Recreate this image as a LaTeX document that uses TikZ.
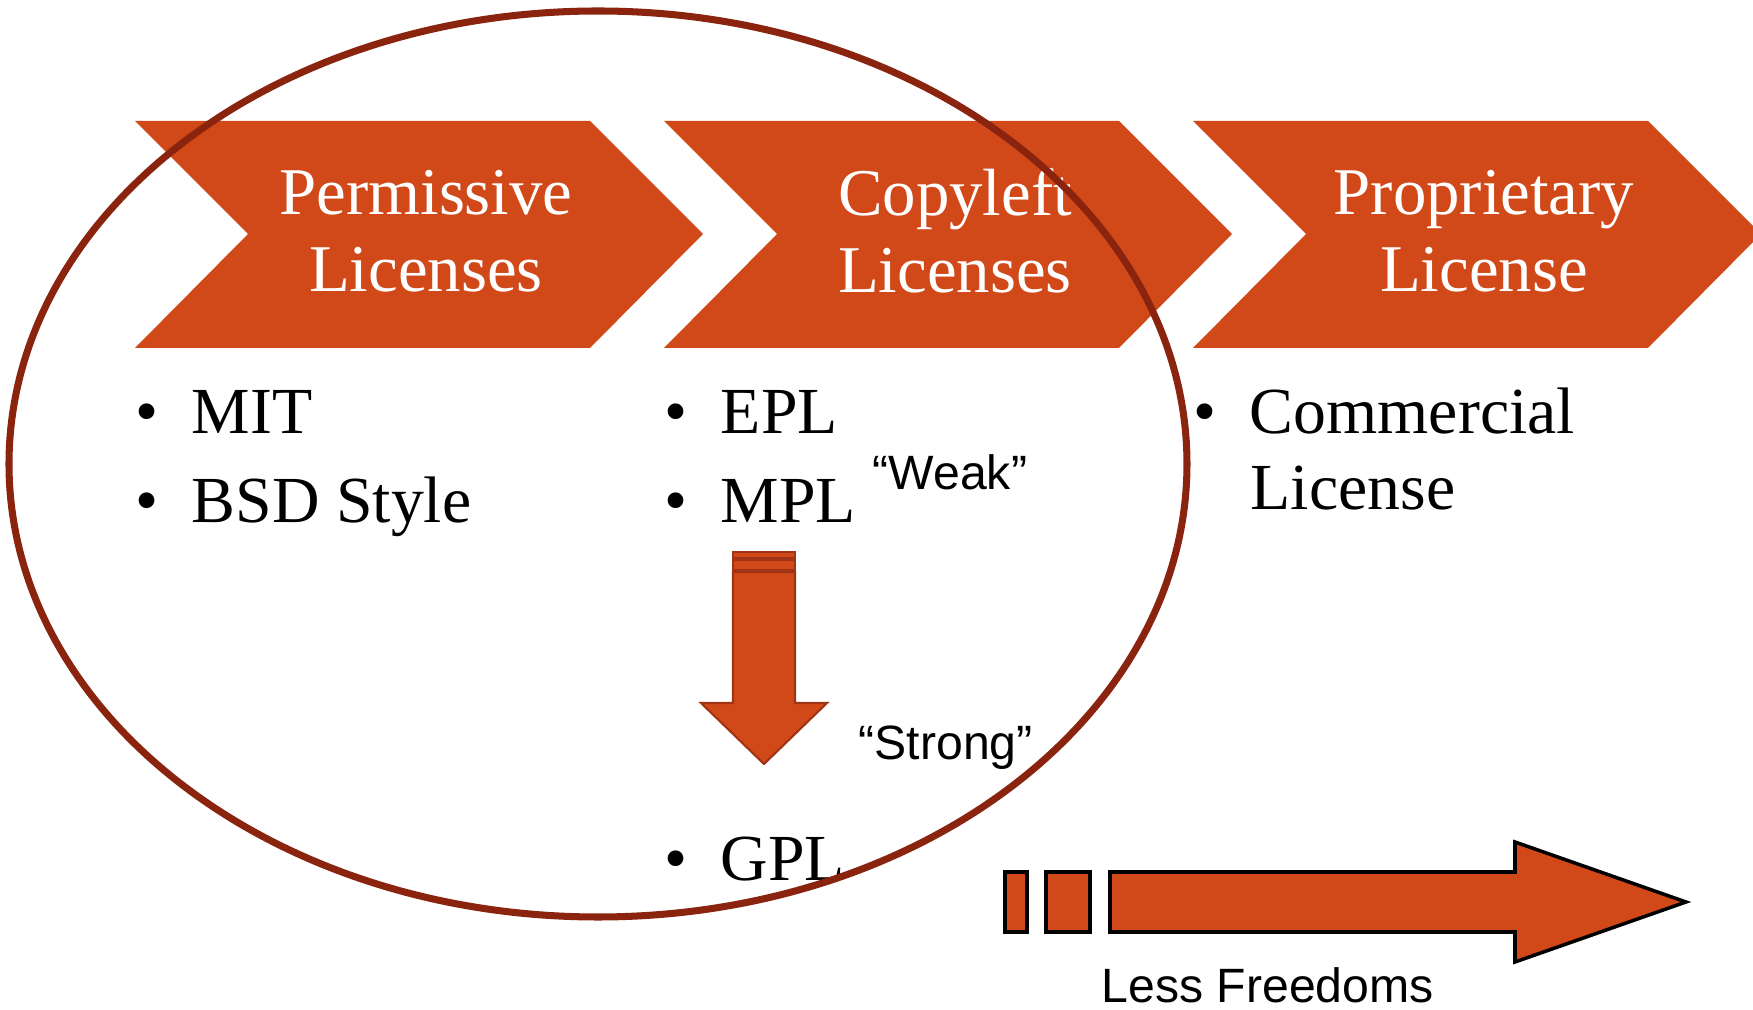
\documentclass[tikz,border=0pt]{standalone}
\usepackage{fontspec}
\setmainfont{Liberation Serif}
\newfontfamily\labelfont{Liberation Sans}
\definecolor{rust}{RGB}{209,73,24}
\definecolor{rustdark}{RGB}{160,52,20}
\definecolor{ringred}{RGB}{138,36,14}
\newcommand{\bul}{\makebox[16pt][l]{\textbullet}}

\begin{document}
\begin{tikzpicture}[x=0.01cm,y=-0.01cm,
  head/.style={text=white,align=center,font=\fontsize{19}{22}\selectfont,inner sep=0pt},
  item/.style={anchor=base west,font=\fontsize{18.7}{22}\selectfont,inner sep=0pt},
  tag/.style={anchor=base west,font=\labelfont\fontsize{13.7}{16}\selectfont,inner sep=0pt}]
  \useasboundingbox (0,0) rectangle (1753,1010);
  \clip (0,0) rectangle (1753,1010);
  % chevrons
  \foreach \x/\nm/\txt in {135/perm/Permissive\\Licenses,664/copy/Copyleft\\Licenses,1193/prop/Proprietary\\License}
   {
    \fill[rust] (\x,121) -- ++(455,0) -- ++(113,113) -- ++(-113,114) -- ++(-455,0) -- ++(113,-114) -- cycle;
    \node[head] (\nm) at (\x+291,231) {\txt};
   }
  % bullets
  \foreach \x/\y/\nm/\txt in {135/434/mit/MIT,135/523/bsd/BSD Style,664/434/epl/EPL,664/523/mpl/MPL,664/881/gpl/GPL,1193/434/com/Commercial}
   {
    \node[item] (\nm) at (\x,\y) {\bul\txt};
   }
  \node[item] (lic) at (1250,510) {License};
  \node[tag] (weak) at (872,490) {“Weak”};
  \node[tag] (strong) at (858,760) {“Strong”};
  \node[tag] (less) at (1101,1003) {Less Freedoms};
  % weak to strong
  \filldraw[fill=rust,draw=rustdark,line width=0.6pt] (733,552) rectangle (795,558) (733,560) rectangle (795,570);
  \filldraw[fill=rust,draw=rustdark,line width=0.6pt] (733,572) -- (795,572) -- (795,703) -- (827,703) -- (764,764) -- (701,703) -- (733,703) -- cycle;
  % less freedoms
  \filldraw[fill=rust,draw=black,line width=1pt] (1005,872) rectangle (1027,932) (1046,872) rectangle (1090,932);
  \filldraw[fill=rust,draw=black,line width=1pt] (1110,872) -- (1515,872) -- (1515,842) -- (1686,902) -- (1515,962) -- (1515,932) -- (1110,932) -- cycle;
  % ring
  \draw[ringred,line width=2pt] (598,464) ellipse [x radius=589,y radius=453];
\end{tikzpicture}
\end{document}
